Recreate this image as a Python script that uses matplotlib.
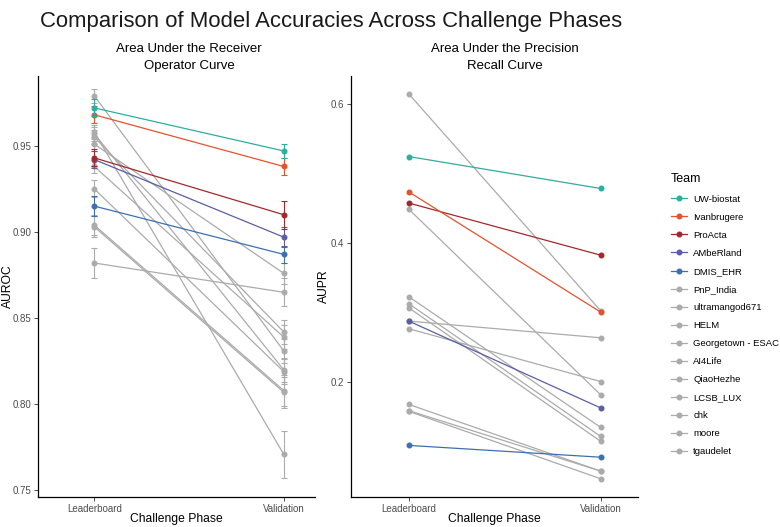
import matplotlib.pyplot as plt
from matplotlib.lines import Line2D

plt.rcParams['font.family'] = ['Liberation Sans', 'DejaVu Sans']

teams = ["UW-biostat", "Ivanbrugere", "ProActa", "AMbeRland", "DMIS_EHR",
         "PnP_India", "ultramangod671", "HELM", "Georgetown - ESAC", "AI4Life",
         "QiaoHezhe", "LCSB_LUX", "chk", "moore", "tgaudelet"]
phases = ["Leaderboard", "Validation"]

auroc_lb = [0.972, 0.968, 0.943, 0.942, 0.915, 0.951, 0.882, 0.955,
            0.938, 0.979, 0.957, 0.925, 0.904, 0.903, 0.958]
auroc_val = [0.947, 0.938, 0.910, 0.897, 0.887, 0.876, 0.865, 0.842,
             0.839, 0.831, 0.820, 0.819, 0.808, 0.807, 0.771]
auroc_lb_err = [0.005, 0.005, 0.005, 0.005, 0.006, 0.004, 0.0085, 0.004,
                0.004, 0.004, 0.004, 0.005, 0.006, 0.006, 0.004]
auroc_val_err = [0.004, 0.005, 0.008, 0.006, 0.005, 0.006, 0.008, 0.007,
                 0.007, 0.007, 0.007, 0.007, 0.009, 0.009, 0.0135]

aupr_lb = [0.525, 0.474, 0.458, 0.288, 0.109, 0.615, 0.288, 0.449,
           0.323, 0.313, 0.307, 0.277, 0.168, 0.159, 0.158]
aupr_val = [0.479, 0.301, 0.383, 0.163, 0.092, 0.303, 0.264, 0.182,
            0.135, 0.122, 0.115, 0.201, 0.072, 0.072, 0.061]

team_colors = ["#2BAF9E", "#E5522E", "#A3282B", "#5B5DA5", "#3E6FB0"] + ["#ABABAB"] * 10

W, H = 780, 527


def px_axes(fig, left, top, right, bottom):
    return fig.add_axes([left / W, 1 - bottom / H, (right - left) / W, (bottom - top) / H])


def style_axes(ax, ylabel, title, ylab_x, title_x):
    for s in ["top", "right"]:
        ax.spines[s].set_visible(False)
    for s in ["left", "bottom"]:
        ax.spines[s].set_linewidth(0.9)
        ax.spines[s].set_color("black")
    ax.set_xticks([1, 2])
    ax.set_xticklabels(phases)
    ax.tick_params(colors="#333333", labelcolor="#4D4D4D", labelsize=7, length=3, width=0.6, pad=2)
    ax.set_xlabel("Challenge Phase", fontsize=8.7)
    ax.xaxis.set_label_coords(0.5, -0.038)
    ax.set_ylabel(ylabel, fontsize=8.7)
    ax.yaxis.set_label_coords(ylab_x, 0.5)
    ax.set_title(title, fontsize=9.5, pad=5, linespacing=1.6, x=title_x)


def draw_panel(ax, lb, val, lb_err=None, val_err=None):
    order = list(range(len(teams)))[::-1]
    for i in order:
        z = 3 if i < 5 else 2
        c = team_colors[i]
        ax.plot([1, 2], [lb[i], val[i]], color=c, lw=0.9, marker="o", ms=3.3, zorder=z)
        if lb_err is not None:
            ax.errorbar([1, 2], [lb[i], val[i]], yerr=[lb_err[i], val_err[i]], fmt="none",
                        ecolor=c, elinewidth=0.8, capsize=2.2, capthick=0.8, zorder=z)


fig = plt.figure(figsize=(W / 100, H / 100), dpi=100)
fig.text(40 / W, 1 - 21 / H, "Comparison of Model Accuracies Across Challenge Phases",
         fontsize=15.9, va="center", ha="left", color="#1a1a1a")

ax1 = px_axes(fig, 38, 76, 315, 497)
draw_panel(ax1, auroc_lb, auroc_val, auroc_lb_err, auroc_val_err)
ax1.set_xlim(0.703, 2.165)
ax1.set_ylim(0.7462, 0.9905)
ax1.set_yticks([0.75, 0.80, 0.85, 0.90, 0.95])
ax1.set_yticklabels(["0.75", "0.80", "0.85", "0.90", "0.95"])
style_axes(ax1, "AUROC", "Area Under the Receiver\nOperator Curve", -0.085, 0.545)

ax2 = px_axes(fig, 351, 76, 638, 497)
draw_panel(ax2, aupr_lb, aupr_val)
ax2.set_xlim(0.698, 2.195)
ax2.set_ylim(0.0347, 0.641)
ax2.set_yticks([0.2, 0.4, 0.6])
ax2.set_yticklabels(["0.2", "0.4", "0.6"])
style_axes(ax2, "AUPR", "Area Under the Precision\nRecall Curve", -0.075, 0.537)

handles = [Line2D([0], [0], color=team_colors[i], lw=0.9, marker="o", ms=3.3) for i in range(len(teams))]
leg = fig.legend(handles, teams, loc="upper left", bbox_to_anchor=(662 / W, 1 - 165 / H),
                 frameon=False, fontsize=6.8, title="Team", title_fontsize=9,
                 handlelength=1.7, handletextpad=0.7, labelspacing=0.96)
leg._legend_box.align = "left"

fig.savefig("out.png", dpi=100)
